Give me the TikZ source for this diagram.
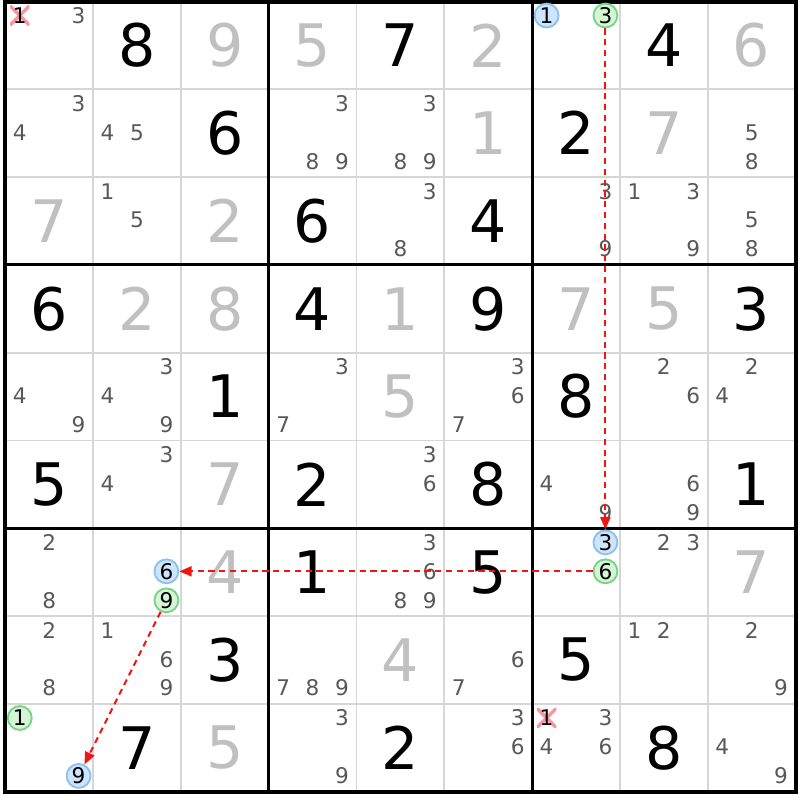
\documentclass[tikz,border=0pt]{standalone}
\usepackage{fontspec}
\setmainfont{DejaVu Sans}
\usepackage{xcolor}
\usetikzlibrary{arrows.meta}

\definecolor{candgrey}{RGB}{88,88,88}
\definecolor{givengrey}{RGB}{192,192,192}
\definecolor{cellgrey}{RGB}{214,214,214}
\definecolor{bluefill}{RGB}{206,228,250}
\definecolor{bluering}{RGB}{140,192,240}
\definecolor{greenfill}{RGB}{212,245,214}
\definecolor{greenring}{RGB}{120,212,132}
\definecolor{crossred}{RGB}{245,150,160}
\definecolor{linkred}{RGB}{240,20,20}

\tikzset{
    solved/.style={font=\fontsize{38}{40}\selectfont, inner sep=0pt},
    given/.style={solved, text=givengrey},
    cand/.style={font=\fontsize{14}{15}\selectfont, text=candgrey, inner sep=0pt},
    bluecand/.style={cand, text=black, circle, draw=bluering, fill=bluefill,
        line width=1.2pt, minimum size=15.5pt},
    greencand/.style={bluecand, draw=greenring, fill=greenfill},
    crossed/.style={cand, text=black, fill=white, minimum size=12.5pt,
        path picture={\draw[crossred, line width=2.2pt]
            (path picture bounding box.north west) -- (path picture bounding box.south east)
            (path picture bounding box.north east) -- (path picture bounding box.south west);}},
    cellline/.style={draw=cellgrey, line width=1.2pt},
    boxline/.style={draw=black, line width=2pt},
    link/.style={draw=linkred, line width=1.3pt, dash pattern=on 4pt off 3pt,
        -{Triangle[length=8pt,width=6.5pt]}}
}

% candidate #4 in row #2, column #3
\newcommand{\cand}[4][cand]{%
    \pgfmathtruncatemacro{\cx}{mod(#4-1,3)}%
    \pgfmathtruncatemacro{\cy}{div(#4-1,3)}%
    \node[#1] (c#2#3#4) at ({#3+0.165+0.335*\cx},{#2+0.16+0.33*\cy}) {#4};}

\begin{document}
\begin{tikzpicture}[x=2cm,y=-2cm]
    \useasboundingbox (-0.0604,-0.017) rectangle (9.051,9.094);

    % grid
    \foreach \i in {1,2,4,5,7,8}
        \draw[cellline] (\i,0) -- (\i,9) (0,\i) -- (9,\i);
    \foreach \i in {3,6}
        \draw[boxline] (\i,0) -- (\i,9) (0,\i) -- (9,\i);
    \draw[boxline, line width=2.6pt] (0,0) rectangle (9,9);

    % big digits
    \foreach \r/\c/\d in {0/1/8, 0/4/7, 0/7/4, 1/2/6, 1/6/2, 2/3/6, 2/5/4,
            3/0/6, 3/3/4, 3/5/9, 3/8/3, 4/2/1, 4/6/8, 5/0/5, 5/3/2, 5/5/8,
            5/8/1, 6/3/1, 6/5/5, 7/2/3, 7/6/5, 8/1/7, 8/4/2, 8/7/8}
        \node[solved] (s\r\c) at (\c+0.5,\r+0.5) {\d};
    \foreach \r/\c/\d in {0/2/9, 0/3/5, 0/5/2, 0/8/6, 1/5/1, 1/7/7, 2/0/7,
            2/2/2, 3/1/2, 3/2/8, 3/4/1, 3/6/7, 3/7/5, 4/4/5, 5/2/7, 6/2/4,
            6/8/7, 7/4/4, 8/2/5}
        \node[given] (s\r\c) at (\c+0.5,\r+0.5) {\d};

    % candidates
    \foreach \r/\c/\ds in {0/0/{3}, 1/0/{3,4}, 1/1/{4,5}, 1/3/{3,8,9},
            1/4/{3,8,9}, 1/8/{5,8}, 2/1/{1,5}, 2/4/{3,8}, 2/6/{3,9},
            2/7/{1,3,9}, 2/8/{5,8}, 4/0/{4,9}, 4/1/{3,4,9}, 4/3/{3,7},
            4/5/{3,6,7}, 4/7/{2,6}, 4/8/{2,4}, 5/1/{3,4}, 5/4/{3,6},
            5/6/{4,9}, 5/7/{6,9}, 6/0/{2,8}, 6/4/{3,6,8,9}, 6/7/{2,3},
            7/0/{2,8}, 7/1/{1,6,9}, 7/3/{7,8,9}, 7/5/{6,7}, 7/7/{1,2},
            7/8/{2,9}, 8/3/{3,9}, 8/5/{3,6}, 8/6/{3,4,6}, 8/8/{4,9}}
        \foreach \d in \ds
            \cand{\r}{\c}{\d};

    % eliminated
    \cand[crossed]{0}{0}{1}
    \cand[crossed]{8}{6}{1}

    % chain
    \cand[bluecand]{0}{6}{1}
    \cand[greencand]{0}{6}{3}
    \cand[bluecand]{6}{6}{3}
    \cand[greencand]{6}{6}{6}
    \cand[bluecand]{6}{1}{6}
    \cand[greencand]{6}{1}{9}
    \cand[greencand]{8}{0}{1}
    \cand[bluecand]{8}{0}{9}

    \draw[link] (c063) -- (c663);
    \draw[link] (c666) -- (c616);
    \draw[link] (c619) -- (c809);
\end{tikzpicture}
\end{document}
